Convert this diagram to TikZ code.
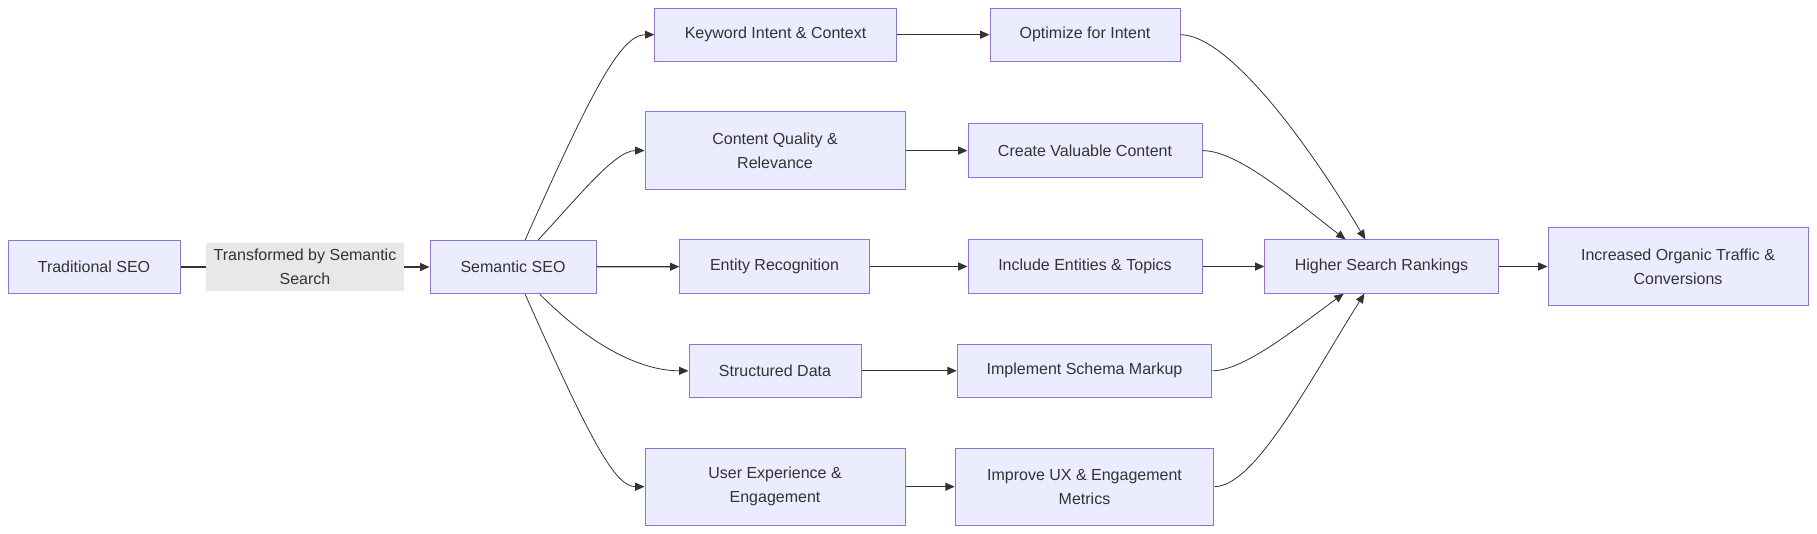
\documentclass[tikz,border=0pt]{standalone}
\usepackage{fontspec}
\setmainfont{Liberation Sans}
\usetikzlibrary{arrows.meta}

\definecolor{boxfill}{HTML}{ECECFF}
\definecolor{boxline}{HTML}{9370DB}
\definecolor{inktext}{HTML}{333333}
\definecolor{lblfill}{HTML}{E8E8E8}

\tikzset{every picture/.style={line width=0.75pt}}
\tikzset{
	box/.style={draw=boxline, fill=boxfill, text=inktext, align=center, inner sep=0pt, minimum height=40pt, font=\fontsize{12}{18}\selectfont},
	lbl/.style={fill=lblfill, text=inktext, align=center, inner sep=0pt, minimum width=149pt, minimum height=36pt, font=\fontsize{12}{18}\selectfont},
	arr/.style={draw=inktext, line width=0.9pt, -{Triangle[length=7pt,width=6pt]}},
	curvearr/.style={arr, line width=0.6pt}
}

\begin{document}
\begin{tikzpicture}[x=0.75pt,y=0.75pt,yscale=-1,xscale=1]
	\useasboundingbox (0,0) rectangle (1817,534);
	
	% Text Node
	\node [box, minimum width=129pt] (trad) at (94,267) {Traditional SEO};
	% Text Node
	\node [box, minimum width=124.5pt] (sem) at (513,267) {Semantic SEO};
	% Text Node
	\node [box, minimum width=181pt] (kw) at (775.5,34.7) {Keyword Intent \& Context};
	% Text Node
	\node [box, minimum width=195pt, minimum height=58pt] (cq) at (775,150.6) {Content Quality \&\\Relevance};
	% Text Node
	\node [box, minimum width=142pt] (er) at (774.5,266.5) {Entity Recognition};
	% Text Node
	\node [box, minimum width=129pt] (sd) at (775,370.8) {Structured Data};
	% Text Node
	\node [box, minimum width=195pt, minimum height=58pt] (ux) at (775,486.7) {User Experience \&\\Engagement};
	% Text Node
	\node [box, minimum width=142.5pt] (opt) at (1085,34.7) {Optimize for Intent};
	% Text Node
	\node [box, minimum width=175.5pt] (cvc) at (1085,150.6) {Create Valuable Content};
	% Text Node
	\node [box, minimum width=175.5pt] (iet) at (1085,266.5) {Include Entities \& Topics};
	% Text Node
	\node [box, minimum width=191pt] (ism) at (1084.5,370.8) {Implement Schema Markup};
	% Text Node
	\node [box, minimum width=194pt, minimum height=58pt] (imp) at (1084.5,486.7) {Improve UX \& Engagement\\Metrics};
	% Text Node
	\node [box, minimum width=175pt] (hsr) at (1381.5,266.5) {Higher Search Rankings};
	% Text Node
	\node [box, minimum width=195pt, minimum height=58.5pt] (inc) at (1678,266.5) {Increased Organic Traffic \&\\Conversions};
	
	%Straight Lines
	\draw [arr] (trad) -- node [lbl] (trans) {Transformed by Semantic\\Search} (sem);
	\draw [arr] (sem) -- (er);
	\draw [arr] (kw) -- (opt);
	\draw [arr] (cq) -- (cvc);
	\draw [arr] (er) -- (iet);
	\draw [arr] (sd) -- (ism);
	\draw [arr] (ux) -- (imp);
	\draw [arr] (iet) -- (hsr);
	\draw [arr] (hsr) -- (inc);
	
	%Curve Lines
	\draw [curvearr] (sem) .. controls (590,95) and (620,34.7) .. (kw);
	\draw [curvearr] (sem) .. controls (580,195) and (615,150.6) .. (cq);
	\draw [curvearr] (sem) .. controls (590,345) and (640,370.8) .. (sd);
	\draw [curvearr] (sem) .. controls (590,440) and (615,486.7) .. (ux);
	%Curve Lines
	\draw [curvearr] (opt) .. controls (1225,34.7) and (1300,130) .. (hsr);
	\draw [curvearr] (cvc) .. controls (1240,150.6) and (1300,205) .. (hsr);
	\draw [curvearr] (ism) .. controls (1245,370.8) and (1300,325) .. (hsr);
	\draw [curvearr] (imp) .. controls (1255,486.7) and (1310,380) .. (hsr);
	
\end{tikzpicture}
\end{document}
